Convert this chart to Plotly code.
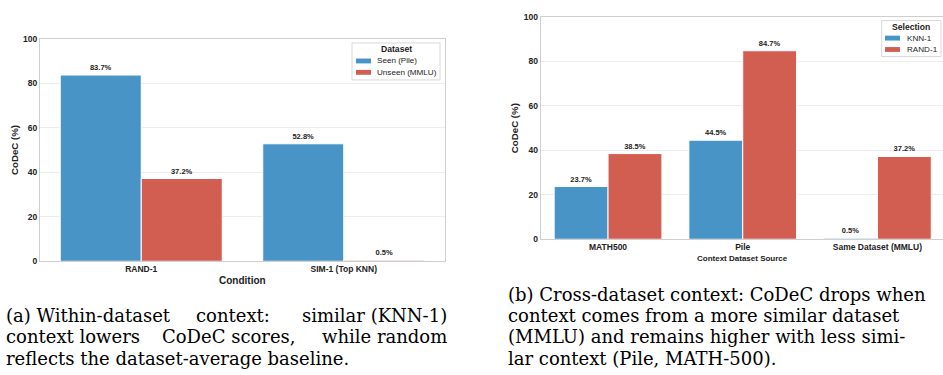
import plotly.graph_objects as go

# ---- data ----
conditions = ["RAND-1", "SIM-1 (Top KNN)"]
seen_pile = [83.7, 52.8]
unseen_mmlu = [37.2, 0.5]

sources = ["MATH500", "Pile", "Same Dataset (MMLU)"]
knn_1 = [23.7, 44.5, 0.5]
rand_1 = [38.5, 84.7, 37.2]

y_ticks = [0, 20, 40, 60, 80, 100]

# caption lines; justified lines are split into left / middle / right pieces
caption_a = [
    ("(a) Within-dataset", "context:", "similar (KNN-1)"),
    ("context lowers", "CoDeC scores,", "while random"),
    ("reflects the dataset-average baseline.", None, None),
]
caption_b = [
    "(b) Cross-dataset context: CoDeC drops when",
    "context comes from a more similar dataset",
    "(MMLU) and remains higher with less simi-",
    "lar context (Pile, MATH-500).",
]

# ---- style ----
W, H = 943, 375
BLUE = "#4994c6"
RED = "#d25e52"
SANS = "Liberation Sans, Arial, sans-serif"
SERIF = "DejaVu Serif, serif"
INK = "#222222"


def px(x):
    return x / W


def py(y):
    return 1 - y / H


fig = go.Figure()


def add_bars(cats, vals, color, name, xa, ya):
    fig.add_trace(go.Bar(
        x=cats, y=vals, name=name, xaxis=xa, yaxis=ya,
        marker=dict(color=color, line=dict(color="white", width=1)),
        texttemplate="%{y:.1f}%", textposition="outside",
        textfont=dict(family=SANS, size=7.5, color=INK, weight="bold"),
        cliponaxis=False, showlegend=False, offsetgroup=name,
    ))


add_bars(conditions, seen_pile, BLUE, "Seen (Pile)", "x", "y")
add_bars(conditions, unseen_mmlu, RED, "Unseen (MMLU)", "x", "y")
add_bars(sources, knn_1, BLUE, "KNN-1", "x2", "y2")
add_bars(sources, rand_1, RED, "RAND-1", "x2", "y2")

axis_common = dict(showline=True, linecolor="#cfcfcf", linewidth=1,
                   ticks="", zeroline=False)
tickfont = dict(family=SANS, size=8.5, color=INK, weight="bold")

fig.update_layout(
    width=W, height=H,
    margin=dict(l=0, r=0, t=0, b=0),
    paper_bgcolor="white", plot_bgcolor="white",
    barmode="group", bargap=0.2, bargroupgap=0,
    xaxis=dict(domain=[px(40), px(445)], range=[-0.5, 1.5], anchor="y",
               showgrid=False, tickfont=tickfont, mirror=True, **axis_common),
    yaxis=dict(domain=[py(263.3), py(34.7)], range=[0, 100], anchor="x",
               tickvals=y_ticks, showgrid=True, gridcolor="#ededed",
               tickfont=tickfont, mirror=True, **axis_common),
    xaxis2=dict(domain=[px(540.7), 1], range=[-0.5, 2.487], anchor="y2",
                showgrid=False, tickfont=tickfont, mirror=True, **axis_common),
    yaxis2=dict(domain=[py(240.7), py(12)], range=[0, 100], anchor="x2",
                tickvals=y_ticks, showgrid=True, gridcolor="#ededed",
                tickfont=tickfont, mirror=False, **axis_common),
)

ann = []
shapes = []


def text(x, y, s, font, xanchor="center", angle=0):
    ann.append(dict(x=px(x), y=py(y), text=s, showarrow=False, textangle=angle,
                    xanchor=xanchor, yanchor="middle", font=font, borderpad=0,
                    xref="paper", yref="paper"))


# axis titles
text(242.7, 283, "Condition", dict(family=SANS, size=10, color=INK, weight="bold"))
text(14, 149, "CoDeC (%)", dict(family=SANS, size=9.7, color=INK, weight="bold"), angle=-90)
text(742.7, 260, "Context Dataset Source", dict(family=SANS, size=8, color=INK, weight="bold"))
text(514, 126.5, "CoDeC (%)", dict(family=SANS, size=9.7, color=INK, weight="bold"), angle=-90)


# legends drawn as boxes with swatches
def legend(x0, y0, x1, y1, title, title_y, entries, sw_x0, sw_x1, lab_x):
    shapes.append(dict(type="rect", xref="paper", yref="paper",
                       x0=px(x0), x1=px(x1), y0=py(y1), y1=py(y0),
                       line=dict(color="#d8d8d8", width=1),
                       fillcolor="rgba(255,255,255,0.85)"))
    text((x0 + x1) / 2, title_y, title, dict(family=SANS, size=8.6, color=INK, weight="bold"))
    for label, color, yc in entries:
        shapes.append(dict(type="rect", xref="paper", yref="paper",
                           x0=px(sw_x0), x1=px(sw_x1), y0=py(yc + 2.5), y1=py(yc - 2.5),
                           line=dict(width=0), fillcolor=color))
        text(lab_x, yc, label, dict(family=SANS, size=8.1, color=INK), xanchor="left")


legend(352, 39, 440, 77, "Dataset", 45.7,
       [("Seen (Pile)", BLUE, 57.5), ("Unseen (MMLU)", RED, 69.2)],
       356, 371, 376)
legend(881.7, 16, 941, 53, "Selection", 22.7,
       [("KNN-1", BLUE, 34), ("RAND-1", RED, 45.7)],
       885, 900, 905.5)

# ---- captions ----
cap_font = dict(family=SERIF, size=18, color="black")
LINE_H = 21.7
mid_centres = [233, 229, None]
for i, (left, mid, right) in enumerate(caption_a):
    yc = 319.3 + LINE_H * i
    text(5, yc, left, cap_font, xanchor="left")
    if mid:
        text(mid_centres[i], yc, mid, cap_font, xanchor="center")
    if right:
        text(448, yc, right, cap_font, xanchor="right")
for i, line in enumerate(caption_b):
    text(506.5, 319.3 - LINE_H + LINE_H * i, line, cap_font, xanchor="left")

fig.update_layout(annotations=ann, shapes=shapes)
fig.write_html("out.html")
